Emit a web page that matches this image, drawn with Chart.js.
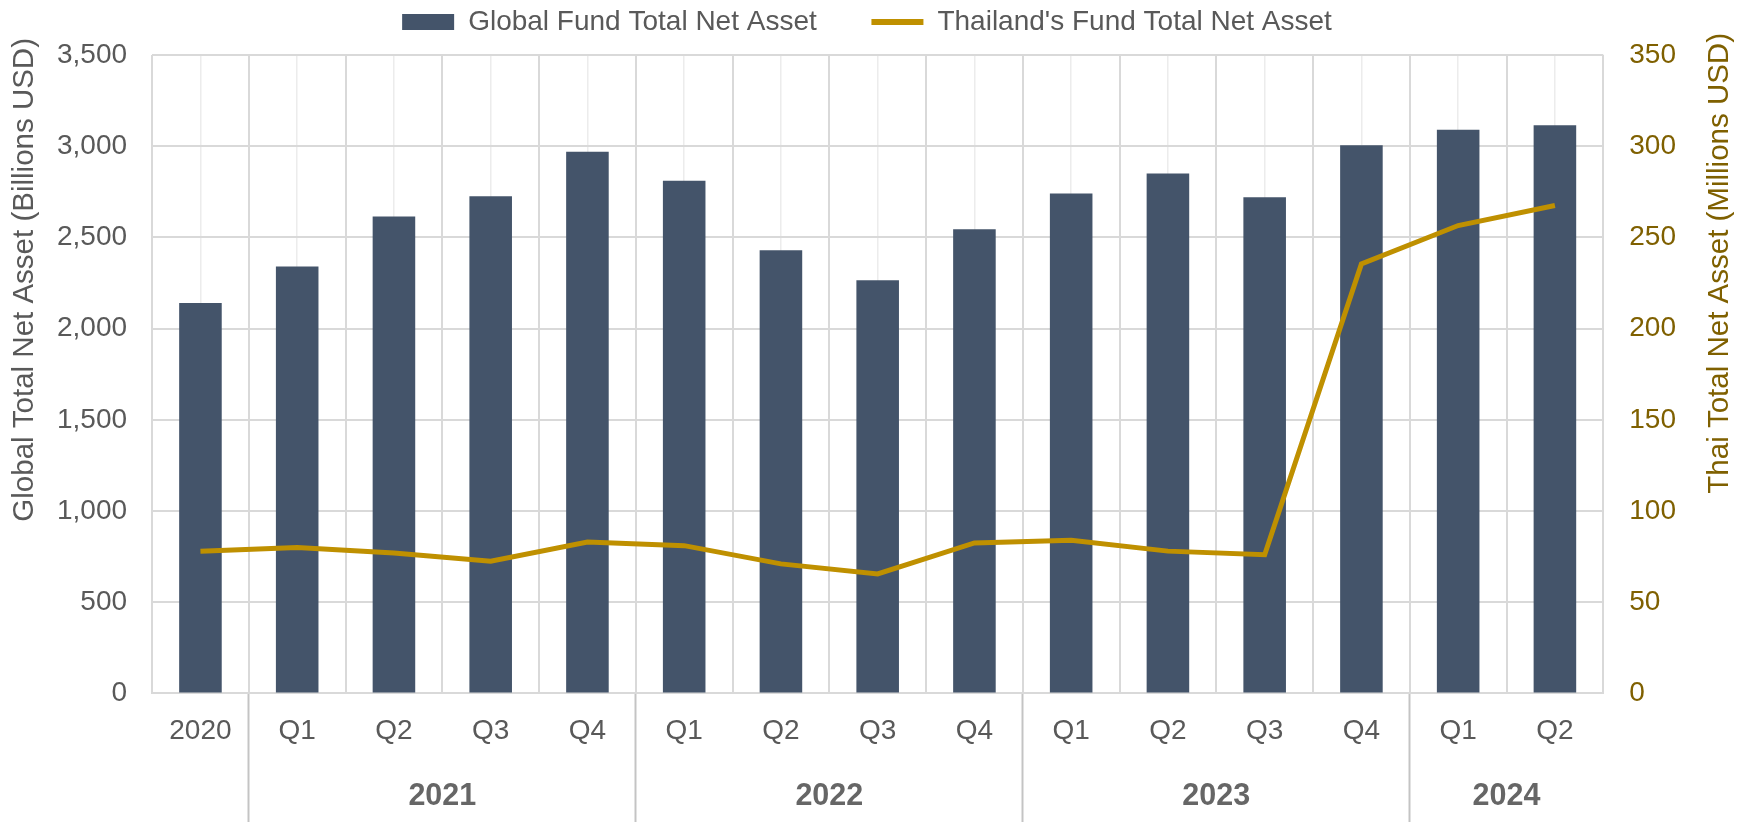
<!DOCTYPE html>
<html>
<head>
<meta charset="utf-8">
<script src="https://cdn.jsdelivr.net/npm/chart.js@4.4.1/dist/chart.umd.min.js"></script>
<style>
  html, body { margin: 0; padding: 0; background: #fff; }
  #wrap { width: 1760px; height: 822px; }
</style>
</head>
<body>
<div id="wrap"><canvas id="fundChart"></canvas></div>
<script>
// quarter row (first column is the 2020 year-end on its own)
const quarterLabels = ['2020', 'Q1', 'Q2', 'Q3', 'Q4', 'Q1', 'Q2', 'Q3', 'Q4', 'Q1', 'Q2', 'Q3', 'Q4', 'Q1', 'Q2'];
const yearLabels = ['2021', '2022', '2023', '2024'];
const yearQuarterCounts = [4, 4, 4, 2];

// Billions USD
const globalNetAsset = [2140, 2340, 2615, 2725, 2970, 2810, 2430, 2265, 2545, 2740, 2850, 2720, 3005, 3090, 3115];
// Millions USD
const thaiNetAsset = [78, 80, 77, 72.5, 83, 81, 71, 65.5, 82.5, 84, 78, 76, 235.5, 256.5, 267.5];

const leftTitle = 'Global Total Net Asset (Billions USD)';
const rightTitle = 'Thai Total Net Asset (Millions USD)';

const FONT = '"Liberation Sans", Arial, sans-serif';
const GREY = '#595959';
const GOLD_TEXT = '#7f6000';

// year row on a half-step grid: slot 2k is the left edge of column k, slot 2k+1 its middle
const yearSlots = new Array(quarterLabels.length * 2 + 1).fill('');
const separatorSlots = [];
let first = 1;
yearQuarterCounts.forEach((n, i) => {
  separatorSlots.push(2 * first);
  yearSlots[first * 2 + n] = yearLabels[i];
  first += n;
});

Chart.defaults.font.family = FONT;
Chart.defaults.font.size = 28;
Chart.defaults.color = GREY;

// a little room under the legend
const legendGap = {
  id: 'legendGap',
  beforeLayout(chart) {
    const lg = chart.legend;
    if (lg && !lg._gapWrapped) {
      const fit = lg.fit;
      lg.fit = function () { fit.call(this); this.height += 9; };
      lg._gapWrapped = true;
    }
  }
};

// both side titles read bottom-to-top, like the original
const sideTitles = {
  id: 'sideTitles',
  afterDraw(chart) {
    const {ctx, chartArea, scales} = chart;
    const items = [
      [scales.y.left - 7, GREY, leftTitle, 17],
      [scales.y1.right + 18, GOLD_TEXT, rightTitle, 22]
    ];
    ctx.save();
    ctx.font = '29.5px ' + FONT;
    ctx.textAlign = 'right';
    ctx.textBaseline = 'middle';
    items.forEach(([x, color, text, lift]) => {
      ctx.save();
      ctx.translate(x, chartArea.top - lift);
      ctx.rotate(-Math.PI / 2);
      ctx.fillStyle = color;
      ctx.fillText(text, 0, 0);
      ctx.restore();
    });
    ctx.restore();
  }
};

new Chart(document.getElementById('fundChart'), {
  type: 'bar',
  data: {
    labels: quarterLabels,
    datasets: [
      {
        label: 'Global Fund Total Net Asset',
        data: globalNetAsset,
        backgroundColor: '#44546a',
        categoryPercentage: 1,
        barPercentage: 0.44,
        xAxisID: 'x',
        yAxisID: 'y',
        order: 1
      },
      {
        type: 'line',
        label: "Thailand's Fund Total Net Asset",
        data: thaiNetAsset,
        borderColor: '#bf9000',
        backgroundColor: '#bf9000',
        borderWidth: 5,
        pointRadius: 0,
        tension: 0,
        xAxisID: 'x',
        yAxisID: 'y1',
        order: 0
      }
    ]
  },
  options: {
    responsive: true,
    maintainAspectRatio: false,
    animation: false,
    layout: {padding: {left: 32, right: 58, top: 0, bottom: 53}},
    plugins: {
      tooltip: {enabled: false},
      legend: {
        position: 'top',
        labels: {
          usePointStyle: true,
          pointStyleWidth: 52,
          boxHeight: 16,
          padding: 8,
          color: GREY,
          font: {size: 28},
          generateLabels: chart =>
            Chart.defaults.plugins.legend.labels.generateLabels(chart)
              .sort((a, b) => a.datasetIndex - b.datasetIndex)
              .map(item => item.datasetIndex === 0
                ? {...item, text: item.text + '      ', pointStyle: 'rect', lineWidth: 0}
                : {...item, pointStyle: 'line', lineWidth: 6, strokeStyle: '#bf9000'})
        }
      }
    },
    scales: {
      x: {
        type: 'category',
        position: 'bottom',
        offset: true,
        weight: 0,
        grid: {offset: true, color: '#d9d9d9', lineWidth: 2, drawTicks: false},
        border: {color: '#d9d9d9', width: 2},
        ticks: {padding: 21, autoSkip: false, maxRotation: 0, color: GREY}
      },
      // light lines through the middle of each column
      xc: {
        type: 'category',
        position: 'bottom',
        offset: true,
        weight: -1,
        grid: {offset: false, color: '#ececec', lineWidth: 1.5, drawTicks: false},
        border: {display: false},
        ticks: {display: false}
      },
      // year row and the group separators, hung off the bottom of the plot
      xYear: {
        type: 'category',
        axis: 'x',
        labels: yearSlots,
        offset: false,
        position: {y: 0},
        grid: {
          offset: false,
          drawOnChartArea: false,
          tickLength: 129,
          tickWidth: 2,
          tickColor: ctx => separatorSlots.includes(ctx.index) ? '#c4c4c4' : 'rgba(0,0,0,0)'
        },
        border: {display: false},
        ticks: {
          padding: -43.8,
          autoSkip: false,
          maxRotation: 0,
          color: '#666666',
          font: {size: 30.5, weight: 'bold'}
        }
      },
      y: {
        position: 'left',
        min: 0,
        max: 3500,
        ticks: {stepSize: 500, padding: 25, color: GREY, callback: v => v.toLocaleString('en-US')},
        grid: {color: '#d9d9d9', lineWidth: 2, drawTicks: false},
        border: {display: false}
      },
      y1: {
        position: 'right',
        min: 0,
        max: 350,
        ticks: {stepSize: 50, padding: 26, color: GOLD_TEXT},
        grid: {drawOnChartArea: false, drawTicks: false},
        border: {display: false}
      }
    }
  },
  plugins: [legendGap, sideTitles]
});
</script>
</body>
</html>
